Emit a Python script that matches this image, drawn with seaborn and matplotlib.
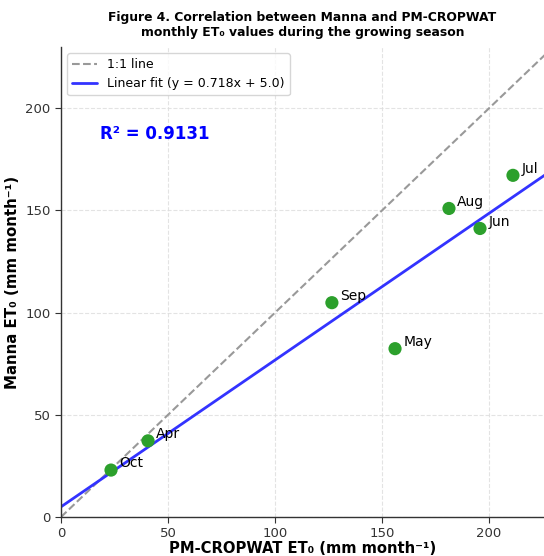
import numpy as np
import pandas as pd
import matplotlib
matplotlib.use("Agg")
import matplotlib.pyplot as plt
import seaborn as sns

months = ["Apr", "May", "Jun", "Jul", "Aug", "Sep", "Oct"]
pm_cropwat = [40.7, 156.1, 195.8, 211.2, 181.3, 126.6, 23.4]
manna = [37.3, 82.4, 141.2, 167.2, 151.0, 104.9, 23.0]
fit_slope = 0.718
fit_intercept = 5.0
r_squared = 0.9131

df = pd.DataFrame({"month": months, "pm": pm_cropwat, "manna": manna})

sns.set_style("white")
plt.rcParams['font.family'] = ['DejaVu Sans']
plt.rcParams['text.color'] = 'black'
plt.rcParams['axes.labelcolor'] = 'black'
plt.rcParams['xtick.color'] = '#333333'
plt.rcParams['ytick.color'] = '#333333'

fig = plt.figure(figsize=(5.44, 5.56), dpi=100)
ax = fig.add_axes([0.112, 0.070, 0.888, 0.8455])

lim = 230
xs = np.array([0, lim])
ax.plot(xs, xs, linestyle="--", color="#999999", linewidth=1.5, label="1:1 line", zorder=1)
ax.plot(xs, fit_slope * xs + fit_intercept, color="#3333ff", linewidth=2,
        label=f"Linear fit (y = {fit_slope:.3f}x + {fit_intercept:.1f})", zorder=2)

sns.scatterplot(data=df, x="pm", y="manna", ax=ax, color="#2ca02c", s=90,
                edgecolor="none", zorder=3, legend=False)
for m, x, y in zip(months, pm_cropwat, manna):
    ax.annotate(m, (x, y), xytext=(6, 2), textcoords="offset points", fontsize=10)

ax.text(0.08, 0.815, f"R² = {r_squared:.4f}", transform=ax.transAxes, color="blue",
        fontsize=12, fontweight="bold", va="center")

ax.set_xlim(0, 225.7)
ax.set_ylim(0, 230)
ax.set_xticks([0, 50, 100, 150, 200])
ax.set_yticks([0, 50, 100, 150, 200])
ax.tick_params(axis="both", labelsize=9.5, length=4, width=0.8, direction="out", left=True, bottom=True)
ax.grid(True, linestyle="--", color="#dddddd", linewidth=0.8, alpha=0.8)
ax.set_axisbelow(True)
for s in ["top", "right"]:
    ax.spines[s].set_visible(False)
for s in ["left", "bottom"]:
    ax.spines[s].set_color("#333333")
    ax.spines[s].set_linewidth(1.0)

ax.set_xlabel("PM-CROPWAT ET₀ (mm month⁻¹)", fontsize=10.6, fontweight="bold", labelpad=0.5)
ax.set_ylabel("Manna ET₀ (mm month⁻¹)", fontsize=10.8, fontweight="bold", labelpad=4)
ax.set_title("Figure 4. Correlation between Manna and PM-CROPWAT\nmonthly ET₀ values during the growing season",
             fontsize=8.9, fontweight="bold", pad=8)
ax.legend(loc="upper left", fontsize=9, frameon=True)

fig.savefig("out.png", dpi=100)
